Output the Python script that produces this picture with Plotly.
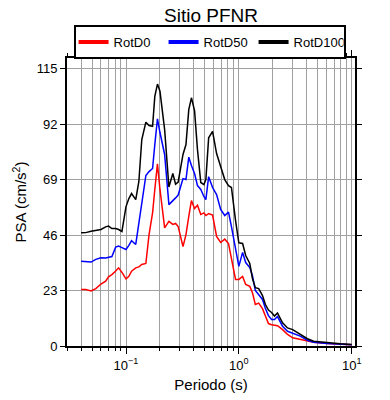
import math
import plotly.graph_objects as go

periods = [0.04, 0.044, 0.049, 0.054, 0.06, 0.066, 0.07, 0.075, 0.081, 0.086,
           0.092, 0.1, 0.106, 0.112, 0.122, 0.13, 0.138, 0.15, 0.16, 0.172,
           0.18, 0.19, 0.2, 0.22, 0.24, 0.26, 0.275, 0.29, 0.32, 0.34,
           0.36, 0.38, 0.405, 0.43, 0.46, 0.49, 0.51, 0.54, 0.585, 0.635,
           0.69, 0.75, 0.81, 0.86, 0.935, 1.0, 1.08, 1.15, 1.25, 1.32,
           1.4, 1.5, 1.62, 1.72, 1.83, 1.95, 2.07, 2.2, 2.44, 2.7,
           3.0, 3.5, 4.05, 4.6, 6.1, 7.9, 10.0]

rotd0 = [23.4, 23.4, 22.8, 23.8, 25.7, 26.9, 28.7, 29.6, 31.1, 32.4,
         30.5, 27.8, 28.9, 31.0, 32.4, 32.8, 33.8, 34.2, 46.2, 55.2,
         64.9, 75.5, 64.9, 49.0, 51.7, 50.4, 50.8, 49.5, 41.2, 46.2,
         53.7, 60.3, 57.0, 58.4, 54.5, 55.2, 54.1, 54.9, 54.3, 45.4,
         42.9, 44.3, 42.5, 35.9, 27.6, 27.6, 28.8, 25.5, 24.7, 22.1,
         17.2, 17.8, 15.5, 12.4, 9.3, 8.8, 8.6, 8.4, 6.8, 4.8,
         3.4, 2.7, 2.0, 1.6, 1.0, 0.75, 0.54]

rotd50 = [35.1, 35.1, 34.8, 35.9, 36.6, 36.5, 36.9, 37.1, 41.0, 41.4,
          40.8, 40.0, 41.7, 43.7, 42.1, 50.8, 60.7, 70.7, 72.3, 73.6,
          83.5, 94.2, 88.5, 79.4, 58.6, 60.1, 61.4, 62.6, 69.4, 69.0,
          78.3, 74.8, 71.5, 66.5, 64.9, 62.0, 60.7, 70.2, 65.7, 62.8,
          56.6, 54.1, 55.5, 49.5, 40.0, 33.0, 38.8, 34.6, 32.5, 29.2,
          23.0, 21.3, 19.3, 15.5, 12.6, 11.0, 11.0, 12.2, 8.2, 6.1,
          5.2, 4.1, 2.4, 1.6, 1.0, 0.75, 0.54]

rotd100 = [46.9, 47.0, 47.6, 48.0, 48.3, 49.4, 49.7, 48.7, 48.7, 48.3,
           47.5, 57.8, 61.1, 63.2, 60.7, 68.2, 85.6, 92.8, 91.4, 91.1,
           103.5, 108.6, 105.6, 89.7, 65.9, 71.5, 67.1, 68.0, 79.4, 83.5,
           98.0, 102.9, 97.6, 81.4, 67.8, 66.9, 69.0, 86.3, 89.0, 79.8,
           74.8, 69.0, 66.5, 65.7, 52.0, 42.8, 42.5, 37.5, 34.2, 28.0,
           24.2, 23.8, 20.9, 17.2, 14.9, 13.9, 12.4, 13.7, 9.6, 7.5,
           6.8, 4.8, 3.0, 2.0, 1.3, 0.9, 0.6]

series_names = ["RotD0", "RotD50", "RotD100"]
series_colors = ["#ff0000", "#0000ff", "#000000"]
y_ticks = [0, 23, 46, 69, 92, 115]
x_ticks = [0.1, 1, 10]
x_ticktext = ["10<sup>\u22121</sup>", "10<sup>0</sup>", "10<sup>1</sup>"]

FONT = "Liberation Sans, Arial, Helvetica, sans-serif"

fig = go.Figure()
for name, vals, col in zip(series_names, [rotd0, rotd50, rotd100], series_colors):
    fig.add_trace(go.Scatter(x=periods, y=vals, mode="lines", name=name,
                             line=dict(color=col, width=1.5), showlegend=False,
                             legendgroup=name))
# legend entries with thicker line samples (no data drawn)
for name, col in zip(series_names, series_colors):
    fig.add_trace(go.Scatter(x=[None], y=[None], mode="lines", name=name,
                             line=dict(color=col, width=4), showlegend=True,
                             legendgroup=name))

fig.update_layout(
    width=390, height=400,
    margin=dict(l=67, r=35, t=58, b=54),
    paper_bgcolor="white", plot_bgcolor="white",
    font=dict(family=FONT, color="black", size=13),
    title=dict(text="Sitio PFNR", x=0.541, xanchor="center", y=0.9625,
               yanchor="middle", yref="container",
               font=dict(size=19, family=FONT)),
    showlegend=True,
    legend=dict(orientation="h", x=0.495, xanchor="center", y=1.1146, yanchor="top",
                bordercolor="black", borderwidth=2, bgcolor="white",
                font=dict(size=13, family=FONT),
                entrywidth=45, entrywidthmode="pixels", itemwidth=30,
                tracegroupgap=0),
)

fig.update_xaxes(
    type="log", range=[math.log10(0.03), math.log10(10.7)],
    tickvals=x_ticks, ticktext=x_ticktext,
    ticks="outside", ticklen=6, tickwidth=1, tickcolor="black",
    showgrid=True, gridcolor="#a0a0a0", gridwidth=1,
    showline=True, linecolor="black", linewidth=2, mirror="allticks",
    minor=dict(dtick="D1", ticks="outside", ticklen=3, tickcolor="black",
               showgrid=True, gridcolor="#a0a0a0", gridwidth=1),
    title=dict(text="Periodo (s)", font=dict(size=15, family=FONT), standoff=8),
    tickfont=dict(size=13, family=FONT), zeroline=False, automargin=False,
)
fig.update_yaxes(
    range=[0, 119.4], tickvals=y_ticks,
    ticks="outside", ticklen=5, tickwidth=1, tickcolor="black",
    showgrid=True, gridcolor="#a0a0a0", gridwidth=1,
    showline=True, linecolor="black", linewidth=2, mirror="allticks",
    title=dict(text="PSA (cm/s<sup>2</sup>)", font=dict(size=15, family=FONT), standoff=6),
    tickfont=dict(size=13, family=FONT), zeroline=False, automargin=False,
)

fig.write_html("out.html", config={"displayModeBar": False},
               post_script="document.body.style.margin='0px';")
